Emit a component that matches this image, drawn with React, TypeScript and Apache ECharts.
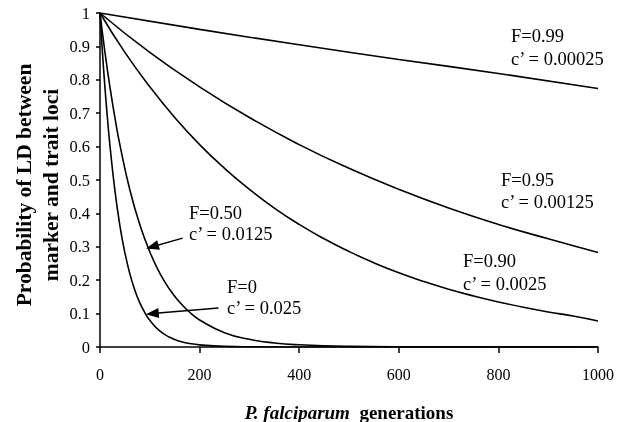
import React, { useEffect, useRef } from "react";
import * as echarts from "echarts";

const xF0 = [0, 5, 10, 15, 20, 30, 40, 50, 60, 70, 80, 90, 100, 120, 140, 160, 180, 200, 250, 300, 400, 1000];
const yF0 = [1, 0.88, 0.776, 0.684, 0.603, 0.468, 0.363, 0.282, 0.219, 0.17, 0.132, 0.103, 0.08, 0.048, 0.029, 0.017, 0.0105, 0.0064, 0.0018, 0.0005, 0, 0];

const xF50 = [0, 10, 20, 30, 40, 60, 80, 100, 120, 140, 160, 180, 200, 250, 300, 350, 400, 500, 600, 1000];
const yF50 = [1, 0.882, 0.778, 0.686, 0.605, 0.47, 0.366, 0.285, 0.221, 0.172, 0.134, 0.104, 0.081, 0.043, 0.023, 0.012, 0.0066, 0.0019, 0.0005, 0];

const xF90 = [0, 50, 100, 150, 200, 250, 300, 350, 400, 450, 500, 550, 600, 650, 700, 750, 800, 850, 900, 950, 1000];
const yF90 = [1, 0.882, 0.779, 0.687, 0.606, 0.535, 0.472, 0.416, 0.367, 0.324, 0.286, 0.252, 0.222, 0.196, 0.173, 0.153, 0.135, 0.119, 0.105, 0.093, 0.078];

const xF95 = [0, 100, 200, 300, 400, 500, 600, 700, 800, 900, 1000];
const yF95 = [1, 0.882, 0.779, 0.687, 0.606, 0.535, 0.472, 0.416, 0.367, 0.324, 0.283];

const xF99 = [0, 200, 400, 600, 800, 1000];
const yF99 = [1, 0.951, 0.905, 0.861, 0.819, 0.774];

const xTicks = [0, 200, 400, 600, 800, 1000];
const yTicks = [0, 0.1, 0.2, 0.3, 0.4, 0.5, 0.6, 0.7, 0.8, 0.9, 1];

const curveLabels = [
  { f: "F=0.99", c: "c\u2019 = 0.00025" },
  { f: "F=0.95", c: "c\u2019 = 0.00125" },
  { f: "F=0.90", c: "c\u2019 = 0.0025" },
  { f: "F=0.50", c: "c\u2019 = 0.0125" },
  { f: "F=0", c: "c\u2019 = 0.025" },
];

const FONT = "Liberation Serif";

const zip = (xs: number[], ys: number[]) => xs.map((x, i) => [x, ys[i]]);

export default function App() {
  const ref = useRef<HTMLDivElement>(null);
  useEffect(() => {
    if (!ref.current) return;
    const chart = echarts.init(ref.current, null, { renderer: "svg" });
    const lineSeries = (name: string, data: number[][], extra: any = {}) => ({
      name,
      type: "line",
      data,
      smooth: 0.5,
      showSymbol: false,
      symbol: "none",
      lineStyle: { color: "#000", width: 1.6 },
      z: 3,
      ...extra,
    });
    const arrow = (from: number[], to: number[]) => [
      { coord: from, symbol: "none" },
      { coord: to, symbol: "triangle", symbolSize: [10, 13] },
    ];
    const annots: any[] = [];
    const pos = [
      [511, 36, 59],
      [501, 180, 202],
      [463, 261, 284],
      [189, 213, 234],
      [227, 287, 308],
    ];
    curveLabels.forEach((l, i) => {
      annots.push({
        type: "text",
        x: pos[i][0],
        y: pos[i][1],
        style: { text: l.f, fontFamily: FONT, fontSize: 18.5, fill: "#000", verticalAlign: "middle" },
      });
      annots.push({
        type: "text",
        x: pos[i][0],
        y: pos[i][2],
        style: { text: l.c, fontFamily: FONT, fontSize: 18.5, fill: "#000", verticalAlign: "middle" },
      });
    });
    chart.setOption({
      animation: false,
      grid: { left: 100, right: 43, top: 13, bottom: 75 },
      xAxis: {
        type: "value",
        min: xTicks[0],
        max: xTicks[xTicks.length - 1],
        interval: 200,
        axisLine: { show: true, lineStyle: { color: "#000", width: 1.5 } },
        axisTick: { show: true, length: 6, lineStyle: { color: "#000", width: 1.5 } },
        axisLabel: {
          color: "#000",
          fontFamily: FONT,
          fontSize: 16,
          margin: 19,
          formatter: (v: number) => String(v),
        },
        splitLine: { show: false },
      },
      yAxis: {
        type: "value",
        min: yTicks[0],
        max: yTicks[yTicks.length - 1],
        interval: 0.1,
        axisLine: { show: true, lineStyle: { color: "#000", width: 1.5 } },
        axisTick: { show: true, length: 4, lineStyle: { color: "#000", width: 1.5 } },
        axisLabel: {
          color: "#000",
          fontFamily: FONT,
          fontSize: 16.5,
          margin: 10,
          formatter: (v: number) => String(Math.round(v * 10) / 10),
        },
        splitLine: { show: false },
      },
      series: [
        lineSeries("F=0.99", zip(xF99, yF99)),
        lineSeries("F=0.95", zip(xF95, yF95)),
        lineSeries("F=0.90", zip(xF90, yF90)),
        lineSeries("F=0.50", zip(xF50, yF50), {
          markLine: {
            silent: true,
            animation: false,
            label: { show: false },
            lineStyle: { color: "#000", width: 1.5, type: "solid" },
            data: [arrow([166, 0.326], [105, 0.3])],
          },
        }),
        lineSeries("F=0", zip(xF0, yF0), {
          markLine: {
            silent: true,
            animation: false,
            label: { show: false },
            lineStyle: { color: "#000", width: 1.5, type: "solid" },
            data: [arrow([238, 0.117], [105, 0.1])],
          },
        }),
      ],
      graphic: [
        ...annots,
        {
          type: "text",
          x: 24,
          y: 185,
          rotation: Math.PI / 2,
          style: {
            text: "Probability of LD between",
            fontFamily: FONT,
            fontWeight: "bold",
            fontSize: 21.5,
            fill: "#000",
            align: "center",
            verticalAlign: "middle",
          },
        },
        {
          type: "text",
          x: 51,
          y: 185,
          rotation: Math.PI / 2,
          style: {
            text: "marker and trait loci",
            fontFamily: FONT,
            fontWeight: "bold",
            fontSize: 21.5,
            fill: "#000",
            align: "center",
            verticalAlign: "middle",
          },
        },
        {
          type: "text",
          x: 349,
          y: 412,
          style: {
            text: "{i|P. falciparum}{b|  generations}",
            align: "center",
            verticalAlign: "middle",
            rich: {
              i: { fontFamily: FONT, fontStyle: "italic", fontWeight: "bold", fontSize: 19, fill: "#000" },
              b: { fontFamily: FONT, fontWeight: "bold", fontSize: 19, fill: "#000" },
            },
          },
        },
      ],
    });
    return () => chart.dispose();
  }, []);
  return (
    <div
      ref={ref}
      style={{ position: "fixed", left: 0, top: 0, width: 641, height: 422 }}
    />
  );
}
